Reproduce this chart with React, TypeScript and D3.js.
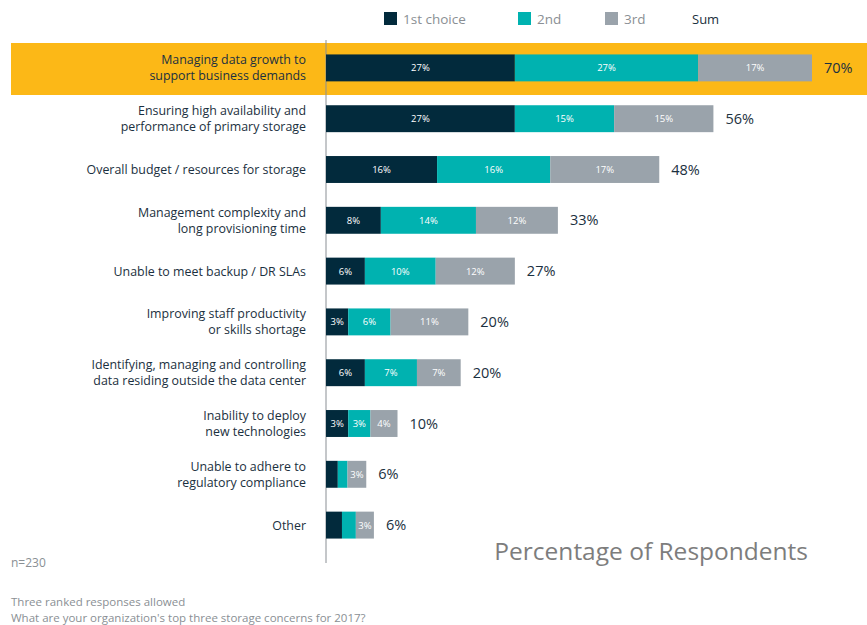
import React from "react";
import * as d3 from "d3";

const categories = [
  ["Managing data growth to", "support business demands"],
  ["Ensuring high availability and", "performance of primary storage"],
  ["Overall budget / resources for storage"],
  ["Management complexity and", "long provisioning time"],
  ["Unable to meet backup / DR SLAs"],
  ["Improving staff productivity", "or skills shortage"],
  ["Identifying, managing and controlling", "data residing outside the data center"],
  ["Inability to deploy", "new technologies"],
  ["Unable to adhere to", "regulatory compliance"],
  ["Other"],
];
const firstChoice = [27.2, 27.2, 16.0, 7.9, 5.6, 3.2, 5.6, 3.2, 1.7, 2.3];
const secondChoice = [26.4, 14.3, 16.3, 13.7, 10.2, 6.1, 7.5, 3.2, 1.4, 2.0];
const thirdChoice = [16.4, 14.3, 15.7, 11.8, 11.4, 11.2, 6.3, 3.9, 2.7, 2.6];
const firstLabels = ["27%", "27%", "16%", "8%", "6%", "3%", "6%", "3%", "", ""];
const secondLabels = ["27%", "15%", "16%", "14%", "10%", "6%", "7%", "3%", "", ""];
const thirdLabels = ["17%", "15%", "17%", "12%", "12%", "11%", "7%", "4%", "3%", "3%"];
const sumLabels = ["70%", "56%", "48%", "33%", "27%", "20%", "20%", "10%", "6%", "6%"];
const seriesNames = ["1st choice", "2nd", "3rd"];
const colors = ["#022a3c", "#00b2b0", "#9aa3ab"];

const FONT = "'Open Sans', 'DejaVu Sans', sans-serif";
const DARK = "#1b3040";

export default function App() {
  const W = 867, H = 625;
  const x0 = 326;
  const x = d3.scaleLinear().domain([0, 70]).range([x0, x0 + 486]);
  const y = d3.scaleBand<number>().domain(d3.range(categories.length)).range([42.5, 550.5]).paddingInner(0.47).paddingOuter(0.235);
  const series = [firstChoice, secondChoice, thirdChoice];
  const labels = [firstLabels, secondLabels, thirdLabels];
  const stacked = categories.map((_, i) => {
    let acc = 0;
    return series.map((s, k) => {
      const start = acc;
      acc += s[i];
      return { start, end: acc, k };
    });
  });
  const legendX = [384, 518, 605];
  return (
    <svg width={W} height={H} style={{ position: "absolute", left: 0, top: 0, fontFamily: FONT }}>
      <rect x={0} y={0} width={W} height={H} fill="#fff" />
      {seriesNames.map((n, k) => (
        <g key={n}>
          <rect x={legendX[k]} y={12} width={13} height={13} fill={colors[k]} />
          <text x={legendX[k] + 19} y={23.5} fontSize={13.5} fill="#8a8f94">{n}</text>
        </g>
      ))}
      <text x={692} y={23.5} fontSize={13} fill={DARK}>Sum</text>
      <rect x={11} y={43} width={W - 11} height={52} fill="#fcb817" />
      <line x1={x0} x2={x0} y1={40} y2={563} stroke="#8a8f94" strokeWidth={1} />
      {categories.map((lines, i) => {
        const yc = (y(i) as number) + y.bandwidth() / 2;
        const total = stacked[i][2].end;
        return (
          <g key={i}>
            {lines.map((l, j) => (
              <text key={j} x={306} y={yc + (j - (lines.length - 1) / 2) * 16 + 4.5} textAnchor="end" fontSize={12.4} fill={DARK}>{l}</text>
            ))}
            {stacked[i].map((seg) => (
              <g key={seg.k}>
                <rect x={x(seg.start)} y={y(i)} width={x(seg.end) - x(seg.start)} height={y.bandwidth()} fill={colors[seg.k]} />
                {labels[seg.k][i] && (
                  <text x={(x(seg.start) + x(seg.end)) / 2} y={yc + 3.5} textAnchor="middle" fontSize={9.5} fill="#fff">{labels[seg.k][i]}</text>
                )}
              </g>
            ))}
            <text x={x(total) + 12} y={yc + 5} fontSize={14.5} fontWeight={500} fill={DARK}>{sumLabels[i]}</text>
          </g>
        );
      })}
      <text x={808} y={560} textAnchor="end" fontSize={24.5} fill="#7d7d7d">Percentage of Respondents</text>
      <text x={11} y={567} fontSize={12} fill="#8a8f94">n=230</text>
      <text x={11} y={606} fontSize={11.5} fill="#8a8f94">Three ranked responses allowed</text>
      <text x={11} y={621.5} fontSize={11.5} fill="#8a8f94">What are your organization's top three storage concerns for 2017?</text>
    </svg>
  );
}
